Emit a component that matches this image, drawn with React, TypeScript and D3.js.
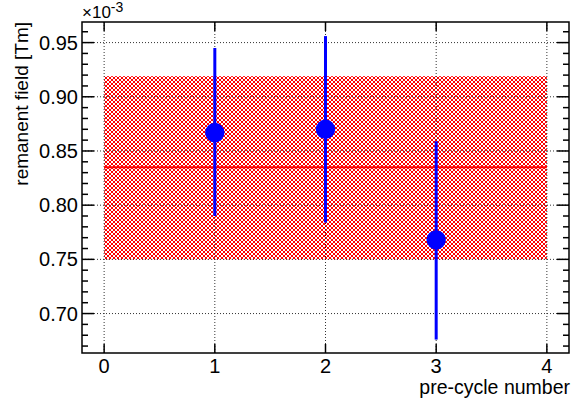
import React, { useEffect, useRef } from "react";
import * as d3 from "d3";

const cycles = [1, 2, 3];
const fieldValues = [0.867, 0.87, 0.768];
const errLow = [0.79, 0.784, 0.676];
const errHigh = [0.945, 0.956, 0.859];
const meanValue = 0.835;
const bandLow = 0.75;
const bandHigh = 0.919;
const xTicks = [0, 1, 2, 3, 4];
const yTicks = [0.7, 0.75, 0.8, 0.85, 0.9, 0.95];

const W = 575,
  H = 404;
const margin = { top: 22, right: 6, bottom: 51, left: 82 };
const FONT = "Liberation Sans, Arial, sans-serif";

// red pixels of the 4x4 cross-hatch tile
const hatchPixels = [
  [0, 0], [1, 1], [2, 2], [3, 3],
  [3, 0], [2, 1], [1, 2], [0, 3],
];

export default function App() {
  const ref = useRef<SVGSVGElement>(null);

  useEffect(() => {
    const root = d3.select(ref.current);
    root.selectAll("*").remove();
    const width = W - margin.left - margin.right,
      height = H - margin.top - margin.bottom;

    const x = d3.scaleLinear().domain([-0.2, 4.2]).range([0, width]);
    const y = d3.scaleLinear().domain([0.6636, 0.969]).range([height, 0]);

    const defs = root.append("defs");
    const pat = defs
      .append("pattern")
      .attr("id", "hatch")
      .attr("patternUnits", "userSpaceOnUse")
      .attr("width", 4)
      .attr("height", 4);
    pat
      .selectAll("rect")
      .data(hatchPixels)
      .join("rect")
      .attr("x", (d) => d[0])
      .attr("y", (d) => d[1])
      .attr("width", 1)
      .attr("height", 1)
      .attr("fill", "#ff0000")
      .attr("shape-rendering", "crispEdges");

    const g = root
      .append("g")
      .attr("transform", `translate(${margin.left}, ${margin.top})`);

    // error band
    g.append("rect")
      .attr("x", x(0))
      .attr("y", y(bandHigh))
      .attr("width", x(4) - x(0))
      .attr("height", y(bandLow) - y(bandHigh))
      .attr("fill", "url(#hatch)");

    // grid
    g.selectAll(".gx")
      .data(xTicks)
      .join("line")
      .attr("x1", (d) => x(d))
      .attr("x2", (d) => x(d))
      .attr("y1", 0)
      .attr("y2", height)
      .attr("stroke", "#333")
      .attr("stroke-width", 1)
      .attr("stroke-dasharray", "1,2");
    g.selectAll(".gy")
      .data(yTicks)
      .join("line")
      .attr("x1", 0)
      .attr("x2", width)
      .attr("y1", (d) => y(d))
      .attr("y2", (d) => y(d))
      .attr("stroke", "#333")
      .attr("stroke-width", 1)
      .attr("stroke-dasharray", "1,2");

    // mean line
    g.append("line")
      .attr("x1", x(0))
      .attr("x2", x(4))
      .attr("y1", y(meanValue))
      .attr("y2", y(meanValue))
      .attr("stroke", "#ff0000")
      .attr("stroke-width", 2);

    // frame
    g.append("rect")
      .attr("width", width)
      .attr("height", height)
      .attr("fill", "none")
      .attr("stroke", "#000")
      .attr("stroke-width", 1.5);

    // x ticks (bottom and top)
    xTicks.forEach((t) => {
      g.append("line")
        .attr("x1", x(t)).attr("x2", x(t))
        .attr("y1", height).attr("y2", height - 9)
        .attr("stroke", "#000").attr("stroke-width", 1.5);
      g.append("line")
        .attr("x1", x(t)).attr("x2", x(t))
        .attr("y1", 0).attr("y2", 9)
        .attr("stroke", "#000").attr("stroke-width", 1.5);
      g.append("text")
        .attr("x", x(t))
        .attr("y", height + 20)
        .attr("text-anchor", "middle")
        .attr("font-family", FONT)
        .attr("font-size", 20)
        .text(t);
    });

    // y ticks (left and right), minor every 0.01
    const minor = d3.range(0, 31).map((i) => 0.67 + i * 0.01).filter((v) => v <= 0.969);
    minor.forEach((v) => {
      const major = Math.abs(Math.round(v * 100) % 5) === 0;
      const len = major ? 12 : 6;
      g.append("line")
        .attr("x1", 0).attr("x2", len)
        .attr("y1", y(v)).attr("y2", y(v))
        .attr("stroke", "#000").attr("stroke-width", 1.5);
      g.append("line")
        .attr("x1", width).attr("x2", width - len)
        .attr("y1", y(v)).attr("y2", y(v))
        .attr("stroke", "#000").attr("stroke-width", 1.5);
    });
    yTicks.forEach((t) => {
      g.append("text")
        .attr("x", -4)
        .attr("y", y(t) + 7)
        .attr("text-anchor", "end")
        .attr("font-family", FONT)
        .attr("font-size", 20)
        .text(t.toFixed(2));
    });

    // exponent
    const ex = g
      .append("text")
      .attr("x", 0)
      .attr("y", -4)
      .attr("font-family", FONT)
      .attr("font-size", 17);
    ex.append("tspan").text("×10");
    ex.append("tspan").attr("dy", -6).attr("font-size", 14).text("-3");

    // error bars and markers
    cycles.forEach((c, i) => {
      g.append("line")
        .attr("x1", x(c)).attr("x2", x(c))
        .attr("y1", y(errLow[i])).attr("y2", y(errHigh[i]))
        .attr("stroke", "#0000ff")
        .attr("stroke-width", 3);
    });
    g.selectAll(".pt")
      .data(cycles)
      .join("circle")
      .attr("cx", (d) => x(d))
      .attr("cy", (d, i) => y(fieldValues[i]))
      .attr("r", 9.7)
      .attr("fill", "#0000ff");

    // axis titles
    g.append("text")
      .attr("x", width + 1)
      .attr("y", height + 41)
      .attr("text-anchor", "end")
      .attr("font-family", FONT)
      .attr("font-size", 19.5)
      .text("pre-cycle number");
    root
      .append("text")
      .attr("transform", `translate(28, ${margin.top}) rotate(-90)`)
      .attr("text-anchor", "end")
      .attr("font-family", FONT)
      .attr("font-size", 19)
      .text("remanent field [Tm]");
  }, []);

  return (
    <svg
      ref={ref}
      width={W}
      height={H}
      style={{ position: "absolute", left: 0, top: 0, background: "#fff" }}
    />
  );
}
